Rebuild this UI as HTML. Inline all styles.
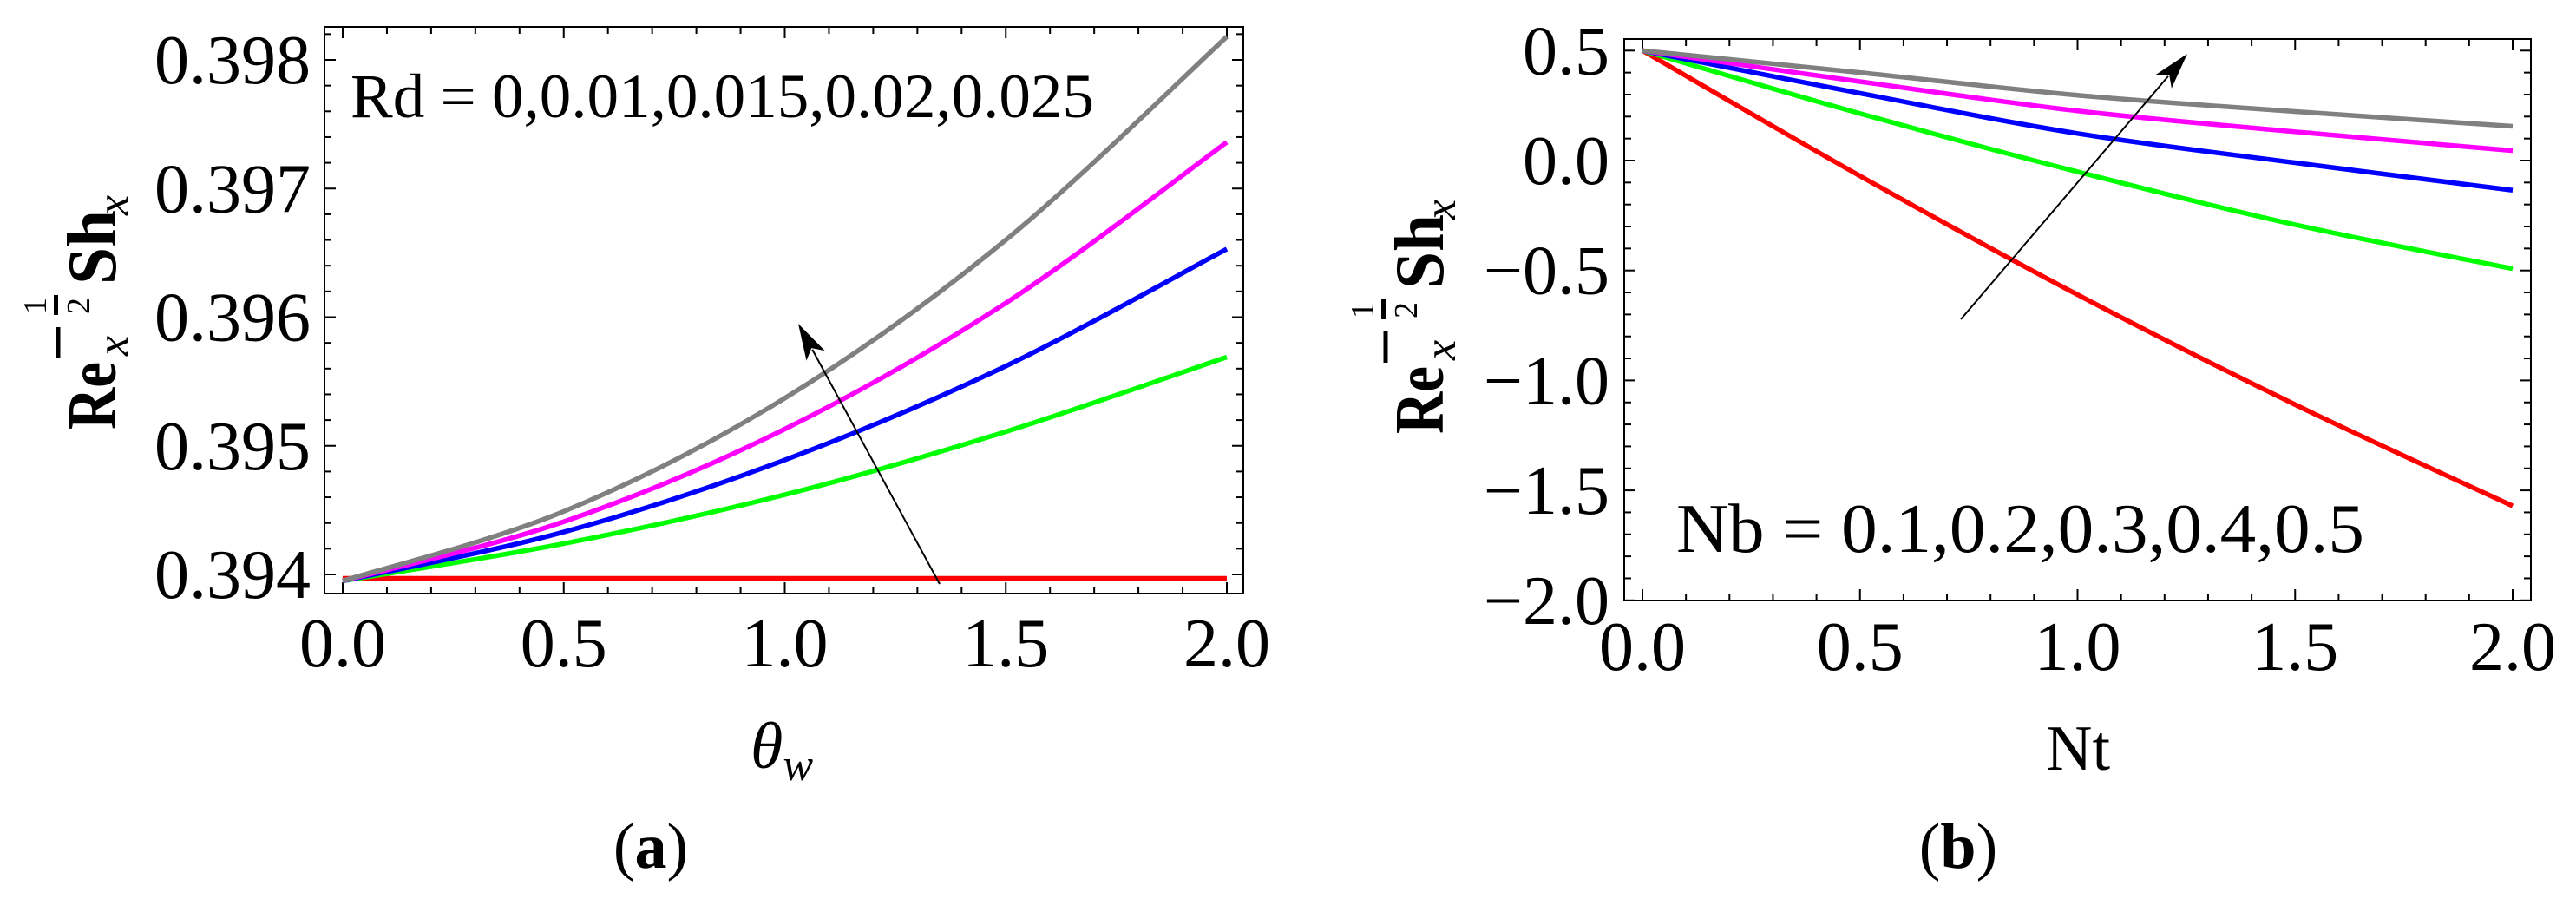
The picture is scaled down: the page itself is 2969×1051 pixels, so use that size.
<!DOCTYPE html>
<html><head><meta charset="utf-8"><style>
html,body{margin:0;padding:0;background:#fff;}
svg, svg text, svg tspan{font-family:"Liberation Serif","DejaVu Serif",serif;}
</style></head><body>
<svg id="fig" width="2969" height="1046" viewBox="0 0 2969 1046" xmlns="http://www.w3.org/2000/svg" font-family="Liberation Serif, serif">
<g id="pa"></g>
<g id="pb"></g>
</svg>
<script>
// ---------- Panel (a) data ----------
const aX = [0, 0.5, 1.0, 1.5, 2.0];
const aSeriesNames = ['Rd=0', 'Rd=0.01', 'Rd=0.015', 'Rd=0.02', 'Rd=0.025'];
const aRed     = [0.39397, 0.39397, 0.39397, 0.39397, 0.39397];
const aGreen   = [0.39395, 0.39424, 0.39462, 0.39511, 0.39569];
const aBlue    = [0.39395, 0.39433, 0.39489, 0.39562, 0.39653];
const aMagenta = [0.39395, 0.39441, 0.39513, 0.39611, 0.39736];
const aGray    = [0.39395, 0.39449, 0.39537, 0.39660, 0.39818];
const aXTicks = ['0.0', '0.5', '1.0', '1.5', '2.0'];
const aYTicks = ['0.394', '0.395', '0.396', '0.397', '0.398'];
// ---------- Panel (b) data ----------
const bX = [0, 0.5, 1.0, 1.5, 2.0];
const bRed     = [0.50, -0.07, -0.61, -1.11, -1.571];
const bGreen   = [0.50, 0.214, -0.051, -0.292, -0.492];
const bBlue    = [0.50, 0.306, 0.123, -0.010, -0.135];
const bMagenta = [0.50, 0.359, 0.226, 0.131, 0.045];
const bGray    = [0.50, 0.400, 0.297, 0.223, 0.156];
const bXTicks = ['0.0', '0.5', '1.0', '1.5', '2.0'];
const bYTicks = ['−2.0', '−1.5', '−1.0', '−0.5', '0.0', '0.5'];

const NS = 'http://www.w3.org/2000/svg';
const FF = '"Liberation Serif", serif';
function mk(parent, tag, attrs, text) {
  const e = document.createElementNS(NS, tag);
  for (const k in attrs) e.setAttribute(k, attrs[k]);
  if (tag === 'text') e.style.fontFamily = FF;
  if (text !== undefined) e.textContent = text;
  parent.appendChild(e);
  return e;
}
function smoothPath(pts) {
  let d = 'M' + pts[0][0] + ',' + pts[0][1];
  for (let i = 0; i < pts.length - 1; i++) {
    const p0 = pts[Math.max(0, i - 1)], p1 = pts[i], p2 = pts[i + 1], p3 = pts[Math.min(pts.length - 1, i + 2)];
    const c1 = [p1[0] + (p2[0] - p0[0]) / 6, p1[1] + (p2[1] - p0[1]) / 6];
    const c2 = [p2[0] - (p3[0] - p1[0]) / 6, p2[1] - (p3[1] - p1[1]) / 6];
    d += ' C' + c1[0] + ',' + c1[1] + ' ' + c2[0] + ',' + c2[1] + ' ' + p2[0] + ',' + p2[1];
  }
  return d;
}
function arrow(g, x1, y1, x2, y2) {
  const dx = x2 - x1, dy = y2 - y1, L = Math.hypot(dx, dy), ux = dx / L, uy = dy / L;
  const hl = 42, hw = 12;
  const bx = x2 - ux * hl, by = y2 - uy * hl;
  const l = mk(g, 'line', {x1: x1, y1: y1, x2: bx + ux * 8, y2: by + uy * 8, stroke: '#000', 'stroke-width': 2});
  
  
  const p = mk(g, 'polygon', {points: x2 + ',' + y2 + ' ' + (bx - uy * hw) + ',' + (by + ux * hw) + ' ' + (bx + ux * 10) + ',' + (by + uy * 10) + ' ' + (bx + uy * hw) + ',' + (by - ux * hw), fill: '#000'});
  
  
}
function yTitle(g, ox, oy) {
  function rt(x, y, txt, attrs, name) {
    const a = Object.assign({x: x, y: y, transform: 'rotate(-90 ' + x + ' ' + y + ')'}, attrs);
    const t = mk(g, 'text', a, txt);
    
    
  }
  rt(133 + ox, 495 + oy, 'Re', {'font-size': 80, 'font-weight': 'bold', textLength: 78, lengthAdjust: 'spacingAndGlyphs'}, 'y-title-re');
  rt(147 + ox, 410 + oy, 'x', {'font-size': 52, 'font-style': 'italic'}, 'y-title-sub-x');
  const m = mk(g, 'line', {x1: 67 + ox, y1: 377 + oy, x2: 67 + ox, y2: 413 + oy, stroke: '#000', 'stroke-width': 5});
   
  const fb = mk(g, 'line', {x1: 64.5 + ox, y1: 340 + oy, x2: 64.5 + ox, y2: 363 + oy, stroke: '#000', 'stroke-width': 5});
   
  rt(53 + ox, 362 + oy, '1', {'font-size': 38}, 'y-title-numerator');
  rt(103 + ox, 362 + oy, '2', {'font-size': 38}, 'y-title-denominator');
  rt(133 + ox, 328 + oy, 'Sh', {'font-size': 80, 'font-weight': 'bold', textLength: 86, lengthAdjust: 'spacingAndGlyphs'}, 'y-title-sh');
  rt(147 + ox, 248 + oy, 'x', {'font-size': 52, 'font-style': 'italic'}, 'y-title-sub-x2');
}
function panel(g, cfg) {
  const X = v => cfg.x0 + v * cfg.xs;
  const Y = v => cfg.y0 - (v - cfg.yBase) * cfg.ys;
  const f = mk(g, 'rect', {x: cfg.L, y: cfg.T, width: cfg.R - cfg.L, height: cfg.B - cfg.T, fill: 'none', stroke: '#000', 'stroke-width': 2});
   
  const tg = mk(g, 'g', {stroke: '#000', 'stroke-width': 2});
   
  for (let i = 0; i <= 20; i++) {
    const x = X(i * 0.1), len = i % 5 === 0 ? 13 : 8;
    mk(tg, 'line', {x1: x, y1: cfg.B, x2: x, y2: cfg.B - len});
    mk(tg, 'line', {x1: x, y1: cfg.T, x2: x, y2: cfg.T + len});
  }
  for (let i = 0; i <= cfg.nMinorY; i++) {
    const v = cfg.yMin + i * cfg.yMinorStep, y = Y(v);
    if (y < cfg.T - 0.5 || y > cfg.B + 0.5) continue;
    const len = i % 5 === 0 ? 13 : 8;
    mk(tg, 'line', {x1: cfg.L, y1: y, x2: cfg.L + len, y2: y});
    mk(tg, 'line', {x1: cfg.R, y1: y, x2: cfg.R - len, y2: y});
  }
  cfg.xTicks.forEach((s, i) => {
    const t = mk(g, 'text', {x: X(i * 0.5), y: cfg.xLabY, 'font-size': 80, 'text-anchor': 'middle'}, s);
     
  });
  cfg.yTicks.forEach((s, i) => {
    const t = mk(g, 'text', {x: cfg.yLabX, y: Y(cfg.yMin + i * cfg.yMajorStep) + 27, 'font-size': 80, 'text-anchor': 'end'}, s);
     
  });
  const colors = ['#ff0000', '#00ff00', '#0000ff', '#ff00ff', '#808080'];
  const names = ['series-red', 'series-green', 'series-blue', 'series-magenta', 'series-gray'];
  cfg.series.forEach((s, k) => {
    const pts = cfg.xs_data.map((xv, i) => [X(xv), Y(s[i])]);
    const p = mk(g, 'path', {d: smoothPath(pts), fill: 'none', stroke: colors[k], 'stroke-width': 5.5});
     
  });
}

const ga = document.getElementById('pa');
panel(ga, {L: 374, R: 1433, T: 31, B: 684, x0: 395, xs: 509.5, y0: 662, yBase: 0.394, ys: 148250,
  yMin: 0.394, yMinorStep: 0.0002, yMajorStep: 0.001, nMinorY: 21, xTicks: aXTicks, yTicks: aYTicks,
  xLabY: 768, yLabX: 358, xs_data: aX, series: [aRed, aGreen, aBlue, aMagenta, aGray]});
yTitle(ga, 0, 0);
arrow(ga, 1083, 673, 920, 373);
let t = mk(ga, 'text', {x: 404, y: 135, 'font-size': 72, textLength: 857, lengthAdjust: 'spacingAndGlyphs'}, 'Rd = 0,0.01,0.015,0.02,0.025');
 
t = mk(ga, 'text', {x: 901, y: 885, 'font-size': 76, 'font-style': 'italic', 'text-anchor': 'middle'});
 
mk(t, 'tspan', {}, 'θ'); mk(t, 'tspan', {dy: 14, 'font-size': 52}, 'w');
t = mk(ga, 'text', {x: 750, y: 1000, 'font-size': 74, 'text-anchor': 'middle'});
 
mk(t, 'tspan', {}, '('); mk(t, 'tspan', {'font-weight': 'bold'}, 'a'); mk(t, 'tspan', {}, ')');

const gb = document.getElementById('pb');
panel(gb, {L: 1872, R: 2917, T: 45, B: 692, x0: 1893, xs: 501.5, y0: 185, yBase: 0, ys: 253.4,
  yMin: -2.0, yMinorStep: 0.1, yMajorStep: 0.5, nMinorY: 26, xTicks: bXTicks, yTicks: bYTicks,
  xLabY: 772, yLabX: 1855, xs_data: bX, series: [bRed, bGreen, bBlue, bMagenta, bGray]});
yTitle(gb, 1530, 5);
arrow(gb, 2260, 368, 2521, 62);
t = mk(gb, 'text', {x: 1932, y: 636, 'font-size': 80, textLength: 793, lengthAdjust: 'spacingAndGlyphs'}, 'Nb = 0.1,0.2,0.3,0.4,0.5');
 
t = mk(gb, 'text', {x: 2395, y: 887, 'font-size': 74, 'text-anchor': 'middle'}, 'Nt');
 
t = mk(gb, 'text', {x: 2257, y: 1000, 'font-size': 74, 'text-anchor': 'middle'});
 
mk(t, 'tspan', {}, '('); mk(t, 'tspan', {'font-weight': 'bold'}, 'b'); mk(t, 'tspan', {}, ')');
</script>
</body></html>
